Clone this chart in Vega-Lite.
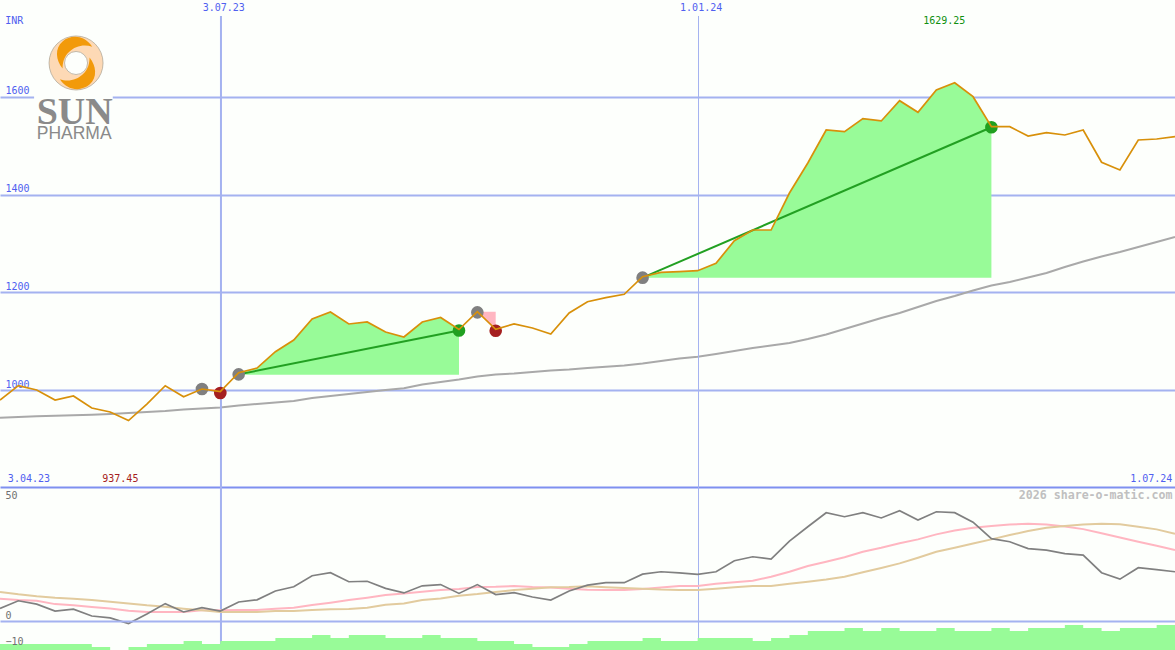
{"$schema":"https://vega.github.io/schema/vega-lite/v6.json","width":1175,"height":650,"autosize":{"type":"none"},"padding":0,"background":"#fdfffc","config":{"view":{"stroke":null},"text":{"font":"DejaVu Sans Mono","fontSize":10}},"datasets":{"series":[
{"date":"2023-04-10","price":979.5,"avg":943.3,"mom":5.3,"sig":9.4,"tan":12.2,"vol":2},
{"date":"2023-04-17","price":1008.8,"avg":944.7,"mom":8.5,"sig":8.8,"tan":11.2,"vol":2},
{"date":"2023-04-24","price":1000,"avg":946.1,"mom":7.1,"sig":8.5,"tan":10.4,"vol":2},
{"date":"2023-05-01","price":979.5,"avg":947.2,"mom":4.2,"sig":7.1,"tan":9.8,"vol":2},
{"date":"2023-05-08","price":987.7,"avg":948.2,"mom":5,"sig":6.6,"tan":9.4,"vol":2},
{"date":"2023-05-15","price":963.1,"avg":949.2,"mom":2.1,"sig":5.9,"tan":8.8,"vol":1},
{"date":"2023-05-22","price":954.9,"avg":950.9,"mom":1.3,"sig":5.3,"tan":8.1,"vol":0},
{"date":"2023-05-29","price":937.45,"avg":952.9,"mom":-1.1,"sig":4.3,"tan":7.4,"vol":1},
{"date":"2023-06-05","price":971.3,"avg":954.9,"mom":2.9,"sig":3.8,"tan":6.6,"vol":2},
{"date":"2023-06-12","price":1008.8,"avg":957,"mom":7.3,"sig":3.8,"tan":6,"vol":2},
{"date":"2023-06-19","price":986.3,"avg":960.1,"mom":3.8,"sig":3.8,"tan":5.2,"vol":3},
{"date":"2023-06-26","price":1002,"avg":962.1,"mom":5.6,"sig":4.5,"tan":4.5,"vol":2,"trade":"a","result":"loss","entry":1002},
{"date":"2023-07-03","price":996.5,"avg":964.2,"mom":4.2,"sig":4.5,"tan":3.8,"vol":3,"trade":"a","result":"loss","entry":1002},
{"date":"2023-07-10","price":1035.4,"avg":968.3,"mom":8,"sig":4.6,"tan":3.8,"vol":3,"trade":"b","result":"win","entry":1031},
{"date":"2023-07-17","price":1045,"avg":971.3,"mom":8.9,"sig":4.6,"tan":3.8,"vol":3,"trade":"b","result":"win","entry":1031},
{"date":"2023-07-24","price":1078.4,"avg":974.4,"mom":12.6,"sig":5.2,"tan":4.2,"vol":4,"trade":"b","result":"win","entry":1031},
{"date":"2023-07-31","price":1102.4,"avg":977.5,"mom":14.4,"sig":5.6,"tan":4.2,"vol":4,"trade":"b","result":"win","entry":1031},
{"date":"2023-08-07","price":1145.4,"avg":983.6,"mom":19,"sig":6.7,"tan":4.6,"vol":5,"trade":"b","result":"win","entry":1031},
{"date":"2023-08-14","price":1159.7,"avg":987.7,"mom":20.3,"sig":7.7,"tan":4.9,"vol":4,"trade":"b","result":"win","entry":1031},
{"date":"2023-08-21","price":1135.2,"avg":991.8,"mom":16.5,"sig":8.8,"tan":5,"vol":5,"trade":"b","result":"win","entry":1031},
{"date":"2023-08-28","price":1139.3,"avg":995.9,"mom":16.7,"sig":9.8,"tan":5.6,"vol":5,"trade":"b","result":"win","entry":1031},
{"date":"2023-09-04","price":1118.8,"avg":1000,"mom":13.7,"sig":10.9,"tan":6.8,"vol":4,"trade":"b","result":"win","entry":1031},
{"date":"2023-09-11","price":1108.5,"avg":1003.5,"mom":11.8,"sig":11.6,"tan":7.4,"vol":4,"trade":"b","result":"win","entry":1031},
{"date":"2023-09-18","price":1139.3,"avg":1011.3,"mom":14.8,"sig":12.3,"tan":8.8,"vol":5,"trade":"b","result":"win","entry":1031},
{"date":"2023-09-25","price":1148.5,"avg":1016.4,"mom":15.3,"sig":13,"tan":9.5,"vol":4,"trade":"b","result":"win","entry":1031},
{"date":"2023-10-02","price":1123.9,"avg":1021.5,"mom":11.6,"sig":13.4,"tan":10.6,"vol":4,"trade":"b","result":"win","entry":1031},
{"date":"2023-10-09","price":1160.3,"avg":1027.6,"mom":15.3,"sig":14.3,"tan":11.3,"vol":3,"trade":"c","result":"loss","entry":1160.3},
{"date":"2023-10-16","price":1124.3,"avg":1031.7,"mom":11.1,"sig":14.4,"tan":12.2,"vol":3,"trade":"c","result":"loss","entry":1160.3},
{"date":"2023-10-23","price":1135.2,"avg":1033.8,"mom":11.9,"sig":14.7,"tan":13,"vol":2},
{"date":"2023-10-30","price":1127,"avg":1036.9,"mom":10.1,"sig":14.3,"tan":13.6,"vol":1},
{"date":"2023-11-06","price":1114.7,"avg":1039.9,"mom":8.8,"sig":14.1,"tan":14.2,"vol":1},
{"date":"2023-11-13","price":1157.7,"avg":1042,"mom":12.6,"sig":13.6,"tan":14.3,"vol":2},
{"date":"2023-11-20","price":1180.8,"avg":1045,"mom":15.1,"sig":13.1,"tan":14.6,"vol":3},
{"date":"2023-11-27","price":1189,"avg":1047.7,"mom":16.1,"sig":13,"tan":14.2,"vol":3},
{"date":"2023-12-04","price":1196,"avg":1050.2,"mom":16.1,"sig":13,"tan":13.9,"vol":3},
{"date":"2023-12-11","price":1232,"avg":1054.3,"mom":19.7,"sig":13.4,"tan":13.6,"vol":4,"trade":"d","result":"win","entry":1230},
{"date":"2023-12-18","price":1241,"avg":1059.4,"mom":20.7,"sig":14.1,"tan":13.2,"vol":3,"trade":"d","result":"win","entry":1230},
{"date":"2023-12-25","price":1242.3,"avg":1064.5,"mom":20.2,"sig":14.7,"tan":13,"vol":3,"trade":"d","result":"win","entry":1230},
{"date":"2024-01-01","price":1244.3,"avg":1068.2,"mom":19.6,"sig":14.7,"tan":13,"vol":4,"trade":"d","result":"win","entry":1230},
{"date":"2024-01-08","price":1259.5,"avg":1073.7,"mom":20.7,"sig":15.7,"tan":13.6,"vol":4,"trade":"d","result":"win","entry":1230},
{"date":"2024-01-15","price":1305.7,"avg":1079.9,"mom":25.3,"sig":16.3,"tan":14.2,"vol":4,"trade":"d","result":"win","entry":1230},
{"date":"2024-01-22","price":1327.6,"avg":1086,"mom":27,"sig":16.9,"tan":14.7,"vol":3,"trade":"d","result":"win","entry":1230},
{"date":"2024-01-29","price":1327.6,"avg":1091.1,"mom":26,"sig":18.6,"tan":14.7,"vol":4,"trade":"d","result":"win","entry":1230},
{"date":"2024-02-05","price":1403.4,"avg":1096.2,"mom":33.6,"sig":20.7,"tan":15.7,"vol":5,"trade":"d","result":"win","entry":1230},
{"date":"2024-02-12","price":1464.9,"avg":1104.4,"mom":39.6,"sig":23.1,"tan":16.5,"vol":6.3,"trade":"d","result":"win","entry":1230},
{"date":"2024-02-19","price":1532.4,"avg":1113.7,"mom":45.5,"sig":24.9,"tan":17.4,"vol":6.3,"trade":"d","result":"win","entry":1230},
{"date":"2024-02-26","price":1529,"avg":1124.9,"mom":43.8,"sig":26.8,"tan":18.6,"vol":7.3,"trade":"d","result":"win","entry":1230},
{"date":"2024-03-04","price":1555.6,"avg":1136.2,"mom":45.5,"sig":29.1,"tan":20.5,"vol":6.3,"trade":"d","result":"win","entry":1230},
{"date":"2024-03-11","price":1550.9,"avg":1147.4,"mom":43.3,"sig":30.8,"tan":22.3,"vol":7.3,"trade":"d","result":"win","entry":1230},
{"date":"2024-03-18","price":1592.4,"avg":1157.7,"mom":46.3,"sig":32.7,"tan":24.2,"vol":6.3,"trade":"d","result":"win","entry":1230},
{"date":"2024-03-25","price":1568.7,"avg":1170,"mom":42.4,"sig":34.3,"tan":26.6,"vol":6.3,"trade":"d","result":"win","entry":1230},
{"date":"2024-04-01","price":1614.3,"avg":1182.3,"mom":45.9,"sig":36.4,"tan":29.1,"vol":7.3,"trade":"d","result":"win","entry":1230},
{"date":"2024-04-08","price":1629.25,"avg":1192.5,"mom":45.5,"sig":38,"tan":30.8,"vol":6.3,"trade":"d","result":"win","entry":1230},
{"date":"2024-04-15","price":1600.6,"avg":1203.8,"mom":41.5,"sig":39.2,"tan":32.6,"vol":6.3,"trade":"d","result":"win","entry":1230},
{"date":"2024-04-22","price":1539.2,"avg":1214,"mom":34.6,"sig":39.9,"tan":34.3,"vol":7.3,"trade":"d","result":"win","entry":1230},
{"date":"2024-04-29","price":1539.2,"avg":1221.2,"mom":33.3,"sig":40.5,"tan":36.1,"vol":6.3},
{"date":"2024-05-06","price":1520.1,"avg":1230.4,"mom":30.4,"sig":40.9,"tan":37.8,"vol":7.3},
{"date":"2024-05-13","price":1526.9,"avg":1239.6,"mom":29.8,"sig":40.5,"tan":39.2,"vol":7.3},
{"date":"2024-05-20","price":1522.2,"avg":1251.9,"mom":28.3,"sig":39.7,"tan":39.9,"vol":8.3},
{"date":"2024-05-27","price":1532.4,"avg":1263.1,"mom":27.7,"sig":38.6,"tan":40.5,"vol":7.3},
{"date":"2024-06-03","price":1466.3,"avg":1273.4,"mom":20.3,"sig":36.9,"tan":40.9,"vol":6.3},
{"date":"2024-06-10","price":1450.5,"avg":1282.6,"mom":17.6,"sig":35.1,"tan":40.6,"vol":7.3},
{"date":"2024-06-17","price":1512,"avg":1292.8,"mom":22.4,"sig":33.3,"tan":39.6,"vol":7.3},
{"date":"2024-06-24","price":1514,"avg":1303.1,"mom":21.6,"sig":31.6,"tan":38.5,"vol":8.3},
{"date":"2024-07-01","price":1518.7,"avg":1313.3,"mom":20.7,"sig":29.8,"tan":36.7,"vol":8.3}
],"signals":[
{"date":"2023-06-26","price":1002,"trade":"a","kind":"entry"},
{"date":"2023-07-03","price":993.9,"trade":"a","kind":"loss"},
{"date":"2023-07-10","price":1032,"trade":"b","kind":"entry"},
{"date":"2023-10-02","price":1121.8,"trade":"b","kind":"win"},
{"date":"2023-10-09","price":1159,"trade":"c","kind":"entry"},
{"date":"2023-10-16","price":1121.4,"trade":"c","kind":"loss"},
{"date":"2023-12-11","price":1230,"trade":"d","kind":"entry"},
{"date":"2024-04-22","price":1538,"trade":"d","kind":"win"}
],"logo":[{"date":"2023-05-09","price":1669.6}]},
"encoding":{"x":{"field":"date","type":"temporal","title":null,"scale":{"type":"utc","domain":["2023-04-10","2024-07-01"]},"axis":{"orient":"top","domain":false,"ticks":false,"grid":false,"values":[{"year":2023,"month":7,"date":3,"utc":true},{"year":2024,"month":1,"date":1,"utc":true}],"labelExpr":"utcFormat(datum.value,'%-d.%m.%y')","labelPadding":-12,"labelOffset":3,"labelFont":"DejaVu Sans Mono","labelFontSize":10,"labelColor":"#5060f0","labelOverlap":false,"labelBound":false,"labelFlush":false}}},
"layer":[
{"data":{"name":"series"},"mark":{"type":"line","color":"#a9a9a9","strokeWidth":2},"encoding":{"y":{"field":"avg","type":"quantitative","axis":null,"scale":{"domain":[467.6,1798.6],"nice":false,"zero":false}}}},
{"encoding":{"y":{"field":"price","type":"quantitative","title":null,"scale":{"domain":[467.6,1798.6],"nice":false,"zero":false},"axis":{"orient":"left","domain":false,"ticks":false,"values":[1600,1400,1200,1000,801.2],"labelExpr":"datum.value<900?'':datum.label","format":"d","grid":true,"gridColor":{"condition":{"test":"datum.value<900","value":"#7f90f0"},"value":"#a4b2f0"},"gridWidth":2,"gridOpacity":1,"labelPadding":-5,"labelAlign":"left","labelOffset":-6,"labelFont":"DejaVu Sans Mono","labelFontSize":10,"labelColor":"#5060f0","labelOverlap":false,"labelBound":false,"labelFlush":false}}},
"layer":[
{"data":{"values":[{"date":"2023-07-03T06:00:00Z","price":1765.9,"low":467.6}]},"mark":{"type":"rule","color":"#a4b2f0","strokeWidth":2},"encoding":{"y2":{"field":"low"}}},
{"data":{"values":[{"date":"2024-01-01T08:00:00Z","price":1765.9,"low":467.6}]},"mark":{"type":"rule","color":"#a4b2f0","strokeWidth":1},"encoding":{"y2":{"field":"low"}}},
{"data":{"values":[{"date":"2023-04-23","end":"2023-05-23","price":1727,"low":1507.9}]},"mark":{"type":"rect","color":"#fdfffc"},"encoding":{"x2":{"field":"end"},"y2":{"field":"low"}}},
{"data":{"name":"series"},"transform":[{"filter":"isValid(datum.trade)"}],"mark":{"type":"area","opacity":1,"line":false},"encoding":{"y2":{"field":"entry"},"detail":{"field":"trade"},"color":{"field":"result","type":"nominal","legend":null,"scale":{"domain":["win","loss"],"range":["#98fb98","#ffb6c1"]}}}},
{"data":{"name":"signals"},"transform":[{"filter":"datum.trade==='b'||datum.trade==='d'"}],"mark":{"type":"line","color":"#22a022","strokeWidth":2},"encoding":{"detail":{"field":"trade"}}},
{"data":{"name":"signals"},"mark":{"type":"point","filled":true,"opacity":1,"size":160},"encoding":{"fill":{"field":"kind","type":"nominal","legend":null,"scale":{"domain":["entry","win","loss"],"range":["#808080","#20a020","#a52020"]}}}},
{"data":{"name":"series"},"mark":{"type":"line","color":"#d8900a","strokeWidth":1.7}},
{"data":{"name":"logo"},"mark":{"type":"point","shape":"circle","filled":true,"opacity":1,"size":2916,"color":"#fdd9b5","stroke":"#a8a090","strokeWidth":0.7}},
{"data":{"name":"logo"},"mark":{"type":"point","shape":"M-0.5 0.2 C-0.75 -0.1 -0.8 -0.55 -0.5 -0.8 C-0.2 -1.05 0.3 -1.05 0.6 -0.6 C0.3 -0.72 -0.05 -0.62 -0.25 -0.42 C-0.45 -0.25 -0.5 0 -0.5 0.2 Z","filled":true,"opacity":1,"size":2916,"color":"#f29a0a"}},
{"data":{"name":"logo"},"mark":{"type":"point","shape":"M0.5 -0.2 C0.75 0.1 0.8 0.55 0.5 0.8 C0.2 1.05 -0.3 1.05 -0.6 0.6 C-0.3 0.72 0.05 0.62 0.25 0.42 C0.45 0.25 0.5 0 0.5 -0.2 Z","filled":true,"opacity":1,"size":2916,"color":"#f29a0a"}},
{"data":{"name":"logo"},"mark":{"type":"point","shape":"circle","filled":true,"opacity":1,"size":529,"color":"#fdfffc","stroke":"#a8a090","strokeWidth":0.7}},
{"data":{"values":[{"date":"2023-04-24","price":1544.7,"label":"SUN"}]},"mark":{"type":"text","font":"Liberation Serif","fontSize":38,"fontWeight":"bold","align":"left","baseline":"alphabetic","color":"#8a8a8a"},"encoding":{"text":{"field":"label"}}},
{"data":{"values":[{"date":"2023-04-24","price":1514,"label":"PHARMA"}]},"mark":{"type":"text","font":"Liberation Sans","fontSize":17.5,"align":"left","baseline":"alphabetic","color":"#8a8a8a"},"encoding":{"text":{"field":"label"}}},
{"data":{"values":[{"date":"2023-04-12","price":1755.6,"label":"INR"},{"date":"2023-04-13","price":817.7,"label":"3.04.23"}]},"mark":{"type":"text","align":"left","color":"#5060f0"},"encoding":{"text":{"field":"label"}}},
{"data":{"values":[{"date":"2023-05-19","price":817.7,"label":"937.45"}]},"mark":{"type":"text","align":"left","color":"#a52020"},"encoding":{"text":{"field":"label"}}},
{"data":{"values":[{"date":"2024-03-27","price":1755.6,"label":"1629.25"}]},"mark":{"type":"text","align":"left","color":"#109010"},"encoding":{"text":{"field":"label"}}},
{"data":{"values":[{"date":"2024-06-30","price":817.7,"label":"1.07.24"}]},"mark":{"type":"text","align":"right","color":"#5060f0"},"encoding":{"text":{"field":"label"}}},
{"data":{"values":[{"date":"2024-06-30","price":782.9,"label":"2026 share-o-matic.com"}]},"mark":{"type":"text","align":"right","color":"#c0c0c0","fontSize":11.6,"fontWeight":"bold"},"encoding":{"text":{"field":"label"}}}
]},
{"data":{"name":"series"},"mark":{"type":"line","color":"#ffb6c1","strokeWidth":2},"encoding":{"y":{"field":"sig","type":"quantitative","axis":null,"scale":{"domain":[-12.18,260.9],"nice":false,"zero":false}}}},
{"data":{"name":"series"},"mark":{"type":"line","color":"#e2cb9e","strokeWidth":2},"encoding":{"y":{"field":"tan","type":"quantitative","axis":null,"scale":{"domain":[-12.18,260.9],"nice":false,"zero":false}}}},
{"data":{"name":"series"},"mark":{"type":"line","color":"#808080","strokeWidth":1.7},"encoding":{"y":{"field":"mom","type":"quantitative","title":null,"scale":{"domain":[-12.18,260.9],"nice":false,"zero":false},"axis":{"orient":"left","domain":false,"ticks":false,"values":[50,0,-10],"grid":true,"gridColor":{"condition":{"test":"datum.value===0","value":"#a4b2f0"},"value":"transparent"},"gridWidth":2,"gridOpacity":1,"labelPadding":-5,"labelAlign":"left","labelOffset":{"condition":{"test":"datum.value===-10","value":-3},"value":-6},"labelFont":"DejaVu Sans Mono","labelFontSize":10,"labelColor":"#707070","labelOverlap":false,"labelBound":false,"labelFlush":false,"zindex":1}}}},
{"data":{"name":"series"},"mark":{"type":"area","interpolate":"step-after","color":"#98fb98","opacity":1},"encoding":{"y":{"field":"vol","type":"quantitative","axis":null,"scale":{"domain":[0,216.67],"nice":false,"zero":false}}}}
],
"resolve":{"scale":{"y":"independent"},"axis":{"y":"independent"}}}
